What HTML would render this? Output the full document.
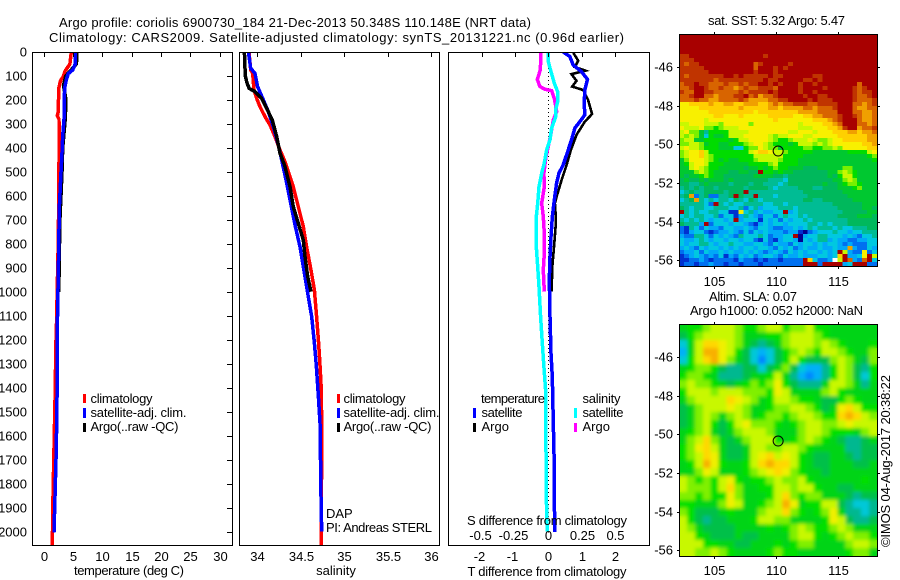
<!DOCTYPE html>
<html lang="en">
<head>
<meta charset="utf-8">
<title>Argo profile chart</title>
<style>
html,body{margin:0;padding:0;background:#fff;}
svg{display:block;font-family:"Liberation Sans",Arial,sans-serif;font-size:13px;fill:#000;}
</style>
</head>
<body>
<svg id="chart" xmlns="http://www.w3.org/2000/svg" width="900" height="580" viewBox="0 0 900 580">
  <defs>
    <clipPath id="clip-temp"><rect x="32" y="52" width="200" height="493"/></clipPath>
    <clipPath id="clip-sal"><rect x="239" y="52" width="200" height="493"/></clipPath>
    <clipPath id="clip-diff"><rect x="448" y="52" width="201" height="493"/></clipPath>
    <clipPath id="clip-sst"><rect x="679" y="34" width="198" height="232"/></clipPath>
    <clipPath id="clip-sla"><rect x="679" y="324" width="198" height="232"/></clipPath>
    <filter id="soften" x="-5%" y="-5%" width="110%" height="110%"><feGaussianBlur stdDeviation="1.9"/></filter>
  </defs>
  <rect width="900" height="580" fill="#fff"/>

  <text x="59" y="27" textLength="472" lengthAdjust="spacing">Argo profile: coriolis 6900730_184 21-Dec-2013 50.348S 110.148E (NRT data)</text>
  <text x="49" y="42" textLength="575" lengthAdjust="spacing">Climatology: CARS2009. Satellite-adjusted climatology: synTS_20131221.nc (0.96d earlier)</text>

  <g id="layer-sst" clip-path="url(#clip-sst)"></g>
  <g id="layer-sla" clip-path="url(#clip-sla)"></g>
  <g id="layer-lines"></g>
  <g id="layer-axes"></g>

  <text x="129" y="575" text-anchor="middle" textLength="110" lengthAdjust="spacing">temperature (deg C)</text>
  <text x="336" y="575" text-anchor="middle">salinity</text>
  <text x="547" y="576" text-anchor="middle" textLength="159" lengthAdjust="spacing">T difference from climatology</text>
  <text x="547" y="525" text-anchor="middle" textLength="160" lengthAdjust="spacing">S difference from climatology</text>

  <g>
    <rect x="83" y="394" width="3" height="9" fill="#f00"/>
    <rect x="83" y="408" width="3" height="10" fill="#00f"/>
    <rect x="83" y="423" width="3" height="9" fill="#000"/>
    <text x="90.5" y="403" textLength="62" lengthAdjust="spacing">climatology</text>
    <text x="90.5" y="417" textLength="96" lengthAdjust="spacing">satellite-adj. clim.</text>
    <text x="90.5" y="431" textLength="88" lengthAdjust="spacing">Argo(..raw -QC)</text>
  </g>
  <g>
    <rect x="337" y="394" width="3" height="9" fill="#f00"/>
    <rect x="337" y="408" width="3" height="10" fill="#00f"/>
    <rect x="337" y="423" width="3" height="9" fill="#000"/>
    <text x="343.5" y="403" textLength="62" lengthAdjust="spacing">climatology</text>
    <text x="343.5" y="417" textLength="96" lengthAdjust="spacing">satellite-adj. clim.</text>
    <text x="343.5" y="431" textLength="88" lengthAdjust="spacing">Argo(..raw -QC)</text>
  </g>
  <text x="326" y="518">DAP</text>
  <text x="326" y="532" textLength="106" lengthAdjust="spacing">PI: Andreas STERL</text>

  <g>
    <text x="481" y="403" textLength="64" lengthAdjust="spacing">temperature</text>
    <rect x="473" y="408" width="3" height="10" fill="#00f"/>
    <text x="481.5" y="417" textLength="41" lengthAdjust="spacing">satellite</text>
    <rect x="473" y="423" width="3" height="9" fill="#000"/>
    <text x="481.5" y="431">Argo</text>
    <text x="582.5" y="403" textLength="38" lengthAdjust="spacing">salinity</text>
    <rect x="574" y="408" width="3" height="10" fill="#0ff"/>
    <text x="582.5" y="417" textLength="41" lengthAdjust="spacing">satellite</text>
    <rect x="574" y="423" width="3" height="9" fill="#f0f"/>
    <text x="582.5" y="431">Argo</text>
  </g>

  <text x="708" y="25" textLength="137" lengthAdjust="spacing">sat. SST: 5.32 Argo: 5.47</text>
  <text x="709" y="301" textLength="88" lengthAdjust="spacing">Altim. SLA: 0.07</text>
  <text x="690" y="315" textLength="173" lengthAdjust="spacing">Argo h1000: 0.052 h2000: NaN</text>
  <text transform="translate(890,547) rotate(-90)" textLength="172" lengthAdjust="spacing">©IMOS 04-Aug-2017 20:38:22</text>
</svg>

<script>
/* ---------- temperature profiles (depth m, deg C) ---------- */
var climDepth = [0,50,80,100,120,150,250,265,280,400,600,800,1150,1200,1450,1650,1850,2055];
var climTemp  = [4.74,4.5,3.66,3.4,2.9,2.6,2.5,2.35,2.64,2.65,2.6,2.5,2.2,2.13,1.96,1.79,1.62,1.5];
var satDepth  = [0,50,75,90,110,150,280,350,420,500,650,800,1150,1350,1650,1850,2000];
var satTemp   = [5.42,5.4,4.97,4.23,3.95,3.6,3.5,3.27,3.15,2.98,2.7,2.6,2.35,2.35,2.18,1.96,1.79];
var argoDepth = [0,50,100,140,200,280,400,500,700,850,1000];
var argoTemp  = [5.7,5.6,3.78,3.4,3.83,3.7,3.27,3.15,2.8,2.7,2.6];

/* ---------- salinity profiles (depth m, psu) ---------- */
var climSalDepth = [0,75,89,158,193,228,269,304,352,408,457,519,561,644,727,811,908,991,1102,1199,1282,1380,1532,2055];
var climSal      = [33.904,33.924,33.947,33.962,33.993,34.031,34.089,34.146,34.204,34.261,34.319,34.377,34.415,34.472,34.53,34.568,34.618,34.657,34.683,34.703,34.718,34.733,34.741,34.737];
var satSalDepth  = [0,68,89,144,200,248,311,387,450,546,616,720,811,894,1004,1102,1212,1310,1435,1545,1851,1997];
var satSal       = [33.897,33.924,33.973,34.004,34.07,34.127,34.185,34.242,34.281,34.338,34.377,34.434,34.492,34.53,34.58,34.626,34.657,34.68,34.703,34.722,34.733,34.741];
var argoSalDepth = [0,68,100,124,151,165,193,235,283,352,421,477,561,644,713,783,852,935,998];
var argoSal      = [33.851,33.858,33.862,33.878,33.904,33.973,34.05,34.108,34.173,34.223,34.261,34.319,34.377,34.415,34.472,34.53,34.549,34.58,34.618];

/* ---------- differences from climatology ---------- */
var satDTDepth = [0,19,54,82,114,158,213,262,290,317,366,408,470,505,546,616,686,769,852,949,1102,1255,1352,1545,1727,1998];
var satDT      = [0.45,0.65,0.75,1.0,1.18,1.10,1.08,1.10,0.95,0.80,0.70,0.60,0.45,0.32,0.25,0.18,0.12,0.08,0.05,0.03,0.05,0.08,0.12,0.15,0.18,0.19];
var argoDTDepth = [3,36,63,78,92,120,144,158,200,258,290,345,408,470,533,602,630,672,727,797,894,998];
var argoDT      = [0.75,0.90,0.8,1.12,0.70,0.85,0.72,1.05,1.2,1.32,1.10,0.85,0.68,0.55,0.40,0.25,0.2,0.22,0.22,0.18,0.12,0.10];
var satDSDepth = [0,40,82,130,165,207,241,271,317,366,408,462,504,561,630,686,811,894,977,1102,1212,1310,1407,1851,1997];
var satDS      = [0,0,0.02,0.045,0.07,0.07,0.055,0.055,0.025,0.013,-0.013,-0.03,-0.05,-0.07,-0.08,-0.09,-0.09,-0.08,-0.07,-0.058,-0.045,-0.033,-0.02,-0.015,-0.008];
var argoDSDepth = [3,75,114,144,155,161,193,248,283,338,394,436,505,561,630,686,755,838,907,998];
var argoDS      = [-0.055,-0.06,-0.083,-0.063,-0.025,0.025,0.045,0.063,0.038,0.02,0,-0.018,-0.033,-0.03,-0.05,-0.038,-0.03,-0.03,-0.038,-0.03];

/* ---------- tick labels ---------- */
var depthTicks = [0,100,200,300,400,500,600,700,800,900,1000,1100,1200,1300,1400,1500,1600,1700,1800,1900,2000];
var tempTicks  = [0,5,10,15,20,25,30];
var salTicks   = [34,34.5,35,35.5,36];
var dTTicks    = [-2,-1,0,1,2];
var dSTicks    = [-0.5,-0.25,0,0.25,0.5];
var lonTicks   = [105,110,115];
var latTicks   = [-46,-48,-50,-52,-54,-56];

/* ---------- map values: A warmest/highest ... Q lowest, W no data ---------- */
var levelKeys   = "ABCDEFGHIJKLMNOPQW";
var sstColors = ["#a80000","#c03400","#d86400","#f0a000","#ffd000","#f8f000","#c8f800","#78f000","#00dc00","#00c830","#00b85c","#00bc94","#00c8e0","#00a8f8","#0070f0","#0030d0","#000090","#ffffff"];
var slaColors = ["#a80000","#c03400","#e07000","#f8b000","#ffd800","#f0f000","#c8f800","#80f000","#00e000","#00d418","#00c048","#00b890","#00c8d8","#00b0f8","#0088ff","#0030d0","#000090","#ffffff"];
var sstRows = [
"AAAAAAAAAA AAAAAAAAAA AAAAAAAAAA AAAAAAAAAA",
"AAAAAAAAAA AAAAAAAAAA AAAAAAAAAA AAAAAAAAAA",
"AAAAAAAAAA AAAAAAAAAA AAAAAAAAAA AAAAAAAAAA",
"AAAAAAAAAA AAAAAAAAAA AAAAAAAAAA AAAAAAAAAA",
"AAAAAAAAAA AAAAAAAAAA AAAAAAAAAA AAAAAAAAAA",
"BBAAAAAAAA AAAAAAABAA AAAAAAAAAA AAAAAAAAAA",
"BBBAAAAAAA AAAAAAAAAA AAAAAAAAAA AAAAAAAAAA",
"BCBBAAAAAA AAAAACBAAA AABAAAAAAA AAAAAAAAAA",
"BBBBBAAAAA AAAAACAAAB ABAAAAAAAA AAAAAAAAAA",
"BBBBBBAAAA AAAAABAAAB AAAAAAAAAA AAAAAAAAAA",
"BCBBBBBBBA ABABBBBBAB BAAAAAABBA AAAAAAAAAA",
"BBBBBBBCBB BBBBBBBABB AAAAABBABA AAAAAAAAAA",
"CBBABBCCCB CCBCBBAABA BAAABAABAA AAAAAACAAA",
"CCBAABCCBC CDCBCCBBBC AAAABAAAAB AAAAABCBAA",
"BCCAABBCCC CCBCBBBBAB AAAABAABAA AAAAABCBBA",
"CCBAACCDCC CBBACBDCCB AAAAABAABB AAAAABCCBA",
"CCCBCCDDCC CCBCDDDDCC BBAAAABABB BAAAABCCCB",
"FFEEEEDEED DEEDDDEEDC DCCBBBCCBB BBAAACCDCB",
"FFFFEEEEEE EEDEEEEEDD EDDDDCCDCC CBAAACDDCC",
"FFFFFFEEEE EEEEEFEEEE EEEEDDDDCC CCAAACCDDC",
"FFFFFFFEEF FFEFFFFFEE EEEFFEEDDC CCBAABCDDC",
"FFFFFGFFFF FFFFFFFFFE FFFFFFFEEE DCBAAACDDC",
"GGFFFGGGHF FFFFHFFFFF FFFFGFFFFE EDCAAACCDC",
"FGGGFHHIHG GGFFFFFFFF FFFFGGGFFF EEDBAADCCB",
"GFHHJLIIII GGGGFFFFFF FFGGFFFGFF FEEEDDEDDC",
"GHGHJMIJJI GGGFFFFFGH GGFFFGGFFF FFEEEEEEDD",
"HGGJJIIIII JIGGFFFFGH IIHGGGFGHH GFFEEEEEDD",
"HHGGHJIIJJ IIIHGFFGHI IIJIGGGHGH GFFFFFFEED",
"GFGGHIIIJJ JMMIHHFGHH JIIIIHHIIH HGHFFFFFEE",
"HGFFEGIIII IIIIGFEEFG GHIIIIIJJJ JJJJIIIIGF",
"HGFFEGHIII IIIIIGGGGG GIIIIJJJJJ JJJJJJJJIH",
"JHFFFGHIJI JJIIIHGGGG HIIIJJJJJJ JJJJJJJJJI",
"JIGFFGIIIJ JJJJIIIIHG IIIIJJJJJJ JJJJJJJJJJ",
"JJGFGHIIJJ JJJKJJIJIH IIJJJKKKJJ JJJHHJJJJJ",
"JJJHGHIJJJ KKJJKKAIIJ IJJKKKKKKK JJHGHIJJJJ",
"JKJJIHIJJK KKKKKJJJJK KLKKKKKKKK JKIGGIJJJJ",
"KJKKJKJJJK JKKKKKKKLL LMKKKKKKKK KJJHGHJJJJ",
"KKLLKJKKKK LKKKLKKLLL MLKKKKKKKJ KKJIHHIJJJ",
"LKLKLKKLKK KKKLKKKKLM LLLLKKKLLK KKJJJIHJJJ",
"MLKLLKKKKL KKKALLLLLL LLLLLKKKKK KKKJJJJJJJ",
"LKDOLKOOLL KAKLLALLLM LLLLLLKKKK KKKKJJJJJJ",
"MLKDLMLMLL MKLMKLMLLL LLLLLKKLLK KKKKKJJJJJ",
"LLLLLMOALM LMMLLLLMML LMLLLLLLLL LKKKKKKJJJ",
"KLMLLMMLLL MMLOMLNMMM LLLMLLLLLL LLKKKKKJJK",
"ALMLMMLLMM PPFMLNMNNM MANMLLLLLL LLLKKKKKJJ",
"MLMLLMMLOM MPNLMNOMMO MLMMLMLLLL LLKKKKJJJK",
"LMLMLMNMMN MANMMMPMNM OMNMMLMLLL LLLLKKKKKK",
"KLLLNAOMMM NMMNOPNMNM MNMMMMLLML MLLLKKKKKK",
"OPLMOMNNOM MNNMNOMMNO ONNMNMLMLL LMLMMLLLKK",
"OPNMMOPONN MNOMOMNMNN NONNPQONMM MLMMNMMLLL",
"NOOLLMOMNM NOLMMMLMON NMMAQNMMLL MMMNMNOMML",
"MNNMLMNMMN MMNMMOPMOP NMMNQMNMLL NMNNOONNMM",
"MNMMLLMNMM LMMNNMMNOM NNOMNMMNMN MMNONOOOMM",
"NMNOMNMMNM NMNMMNMMNO MNMONMNNMN NMNNDNOOMN",
"ONNMOMNNMN MNNMNMNONM NOMNMNMMNM NMAGNOOFOM",
"PONMNONOMP NOMNMONMMN OMNNMNNNMM NMEANNMFAG",
"PPOONOPOOO OPNOOPOPOO POOOOAEMOO NWGACNOCAM",
"POOPOONOOP OOPOOOPOOO OOOOOAAAOA AAANMAAAOO"
];
var slaRows = [
"JIIHGGGHIIHGGIHHGIIJJJJJJ",
"KIHGGGGHJJJIIHGGGHIJJJJJJ",
"MJGEEFGHJKLKJHGGGHGHIJJJI",
"NJGDDFGIKMNMKIHGHIGGHIJJH",
"MIGEDFHJKMOMKIGIKKKHGHJKH",
"JIHHIKLLKKMKJHKMNNLIGHKLI",
"IHHIJLLLKJJIGJLNONLIGHKMI",
"HGHHIJKJIHIHFIKLLLJGGHJLJ",
"IGGGHGGGHHHIFGJJJJHGIJJJJ",
"JHGGGGEFGHJIGGHIIJKKIHIJJ",
"KJHGGGFGHJJIHHGGHIKJFEGII",
"KJHGHJHGHJIHHIHGGHIIEDEGH",
"KJHGIKIGFHHHIJIHGGHHGFGGG",
"JIHGJKJHGGGHJJJHGGHIIIJHG",
"JHGEHJKJHGGGIJIHGHIJKLLKJ",
"IHFEGJKKJGGHHGGHIJJJJLLKK",
"IHGEFJKKJGFEGFGIJKKJJKLKK",
"JIGDFIJJIGEDEEGIJKKJJJKKJ",
"JJHFGJJJIHGFEFHIJJKJJJJJJ",
"GHIHIGFIJIIHGHHGIJJJJJJIJ",
"GHHHIGEHJJIIGGHGGIJJKKJJJ",
"HHIHIIFHJJJIGEHIHHJJJKLKK",
"IIJJJHFGJJIHGDFJIIGGKLMML",
"HIKKKJIJJJHGGEHIJIHFJLLML",
"GIKLKKJJJIGGHHJJJJIFGKLLK",
"GHJKKKKJJJJIJIHGHIIHGHJJJ",
"GGIJKKKJKKJJJJHGGIJIHGHHI",
"GGGIIJJKKJJJIJIHHJJJJHGGH",
"GGHHGHIJJJJIHIIJJJJJJIHHJ"
];

/* ---------- axis functions ---------- */
function depthY(d){ return 52 + d * 0.2402; }
function tempX(v){ return 43.5 + v * 5.87; }
function salX(v){ return 257.3 + (v - 34) * 86.85; }
function diffTX(v){ return 548.3 + v * 33.2; }
function diffSX(v){ return 548.3 + v * 4 * 33.2; }
function lonX(v){ return 776.3 + (v - 110) * 12.43; }
function latSstY(v){ return 144.3 + (-50 - v) * 19.36; }
function latSlaY(v){ return 434.3 + (-50 - v) * 19.36; }

var SVGNS = "http://www.w3.org/2000/svg";
function make(tag, attrs, parent){
  var el = document.createElementNS(SVGNS, tag);
  for (var k in attrs) { el.setAttribute(k, attrs[k]); }
  parent.appendChild(el);
  return el;
}
function drawLine(parent, x1, y1, x2, y2, name){
  var el = make("line", {x1:x1, y1:y1, x2:x2, y2:y2, stroke:"#000", "stroke-width":1, "shape-rendering":"crispEdges"}, parent);
  
  
  return el;
}
function drawLabel(parent, x, y, text, anchor, name){
  var el = make("text", {x:x, y:y, "text-anchor":anchor}, parent);
  el.textContent = text;
  
  
  return el;
}
function drawProfile(parent, depths, values, xFn, color, width, clipId, name){
  var pts = [];
  for (var i = 0; i < depths.length; i++) {
    pts.push(xFn(values[i]).toFixed(1) + "," + depthY(depths[i]).toFixed(1));
  }
  var el = make("polyline", {points:pts.join(" "), fill:"none", stroke:color, "stroke-width":width, "shape-rendering":"crispEdges", "clip-path":"url(#" + clipId + ")"}, parent);
  
  
  return el;
}
function drawBox(parent, l, t, r, b, name){
  var el = make("rect", {x:l + 0.5, y:t + 0.5, width:r - l, height:b - t, fill:"none", stroke:"#000", "stroke-width":1, "shape-rendering":"crispEdges"}, parent);
  
  
  return el;
}

/* ---------- profile lines ---------- */
var lines = document.getElementById("layer-lines");
drawProfile(lines, climDepth, climTemp, tempX, "#f00", 3.5, "clip-temp", "temperature-climatology-line");
drawProfile(lines, argoDepth, argoTemp, tempX, "#000", 3.5, "clip-temp", "temperature-argo-line");
drawProfile(lines, satDepth, satTemp, tempX, "#00f", 3.5, "clip-temp", "temperature-satellite-line");
drawProfile(lines, climSalDepth, climSal, salX, "#f00", 3.5, "clip-sal", "salinity-climatology-line");
drawProfile(lines, satSalDepth, satSal, salX, "#00f", 3.5, "clip-sal", "salinity-satellite-line");
drawProfile(lines, argoSalDepth, argoSal, salX, "#000", 3.5, "clip-sal", "salinity-argo-line");

var zeroLine = make("line", {x1:diffTX(0), y1:depthY(0), x2:diffTX(0), y2:depthY(2000), stroke:"#000", "stroke-width":1, "stroke-dasharray":"1 3", "shape-rendering":"crispEdges"}, lines);


drawProfile(lines, argoDTDepth, argoDT, diffTX, "#000", 2.6, "clip-diff", "t-difference-argo-line");
drawProfile(lines, satDTDepth, satDT, diffTX, "#00f", 3.5, "clip-diff", "t-difference-satellite-line");
drawProfile(lines, argoDSDepth, argoDS, diffSX, "#f0f", 3.5, "clip-diff", "s-difference-argo-line");
drawProfile(lines, satDSDepth, satDS, diffSX, "#0ff", 3.5, "clip-diff", "s-difference-satellite-line");

/* ---------- axes ---------- */
var axes = document.getElementById("layer-axes");
drawBox(axes, 32, 52, 232, 545, "temperature-axes-box");
drawBox(axes, 239, 52, 439, 545, "salinity-axes-box");
drawBox(axes, 448, 52, 649, 545, "difference-axes-box");

depthTicks.forEach(function(d){
  var y = Math.round(depthY(d)) + 0.5;
  drawLine(axes, 227, y, 232, y, "depth-tick-right");
  drawLabel(axes, 27, y + 4, String(d), "end", "depth-tick-label");
});
tempTicks.forEach(function(v){
  var x = Math.round(tempX(v)) + 0.5;
  drawLine(axes, x, 52, x, 57, "temperature-tick-top");
  drawLabel(axes, x, 561, String(v), "middle", "temperature-tick-label");
});
salTicks.forEach(function(v){
  var x = Math.round(salX(v)) + 0.5;
  drawLine(axes, x, 52, x, 57, "salinity-tick-top");
  drawLabel(axes, x, 561, String(v), "middle", "salinity-tick-label");
});
dTTicks.forEach(function(v){
  var x = Math.round(diffTX(v)) + 0.5;
  drawLine(axes, x, 52, x, 57, "t-difference-tick-top");
  drawLabel(axes, x - (v < 0 ? 3 : 0), 561, String(v), "middle", "t-difference-tick-label");
});
dSTicks.forEach(function(v){
  var x = Math.round(diffSX(v)) + 0.5;
  drawLabel(axes, x - (v < 0 ? 2 : 0), 540, String(v), "middle", "s-difference-tick-label");
});

/* ---------- maps ---------- */
function drawCells(parent, rows, colors, left, top, width, height, name){
  var cleanRows = rows.map(function(r){ return r.replace(/ /g, ""); });
  var rowH = height / cleanRows.length;
  cleanRows.forEach(function(row, j){
    var colW = width / row.length;
    for (var i = 0; i < row.length; i++) {
      var level = levelKeys.indexOf(row.charAt(i));
      var cell = make("rect", {x:(left + i * colW).toFixed(2), y:(top + j * rowH).toFixed(2), width:(colW + 0.6).toFixed(2), height:(rowH + 0.6).toFixed(2), fill:colors[level], "shape-rendering":"crispEdges"}, parent);
      
      
    }
  });
}
var sstLayer = document.getElementById("layer-sst");
drawCells(sstLayer, sstRows, sstColors, 679, 34, 198, 232, "sst-cell");
var slaLayer = document.getElementById("layer-sla");
drawCells(slaLayer, slaRows, slaColors, 679, 324, 198, 232, "sla-cell");
var slaSoft = make("g", {filter:"url(#soften)"}, slaLayer);


drawCells(slaSoft, slaRows, slaColors, 679, 324, 198, 232, "sla-smoothed-cell");

function drawMapFrame(top, bottom, latFn, name, labelY){
  drawBox(axes, 679, top, 877, bottom, name + "-box");
  lonTicks.forEach(function(v){
    var x = Math.round(lonX(v)) + 0.5;
    drawLine(axes, x, top - 2, x, top, name + "-lon-tick-top");
    drawLine(axes, x, bottom + 1, x, bottom + 3, name + "-lon-tick-bottom");
    drawLabel(axes, x, labelY, String(v), "middle", name + "-lon-label");
  });
  latTicks.forEach(function(v){
    var y = Math.round(latFn(v)) + 0.5;
    drawLine(axes, 677, y, 679, y, name + "-lat-tick-left");
    drawLine(axes, 878, y, 880, y, name + "-lat-tick-right");
    drawLabel(axes, 673, y + 4, String(v), "end", name + "-lat-label");
  });
}
drawMapFrame(34, 266, latSstY, "sst-map", 286);
drawMapFrame(324, 556, latSlaY, "sla-map", 575);

var floatLon = 110.148;
var floatLat = -50.348;
var floatOnSst = make("circle", {cx:lonX(floatLon), cy:latSstY(floatLat), r:5, fill:"none", stroke:"#000", "stroke-width":1}, axes);


var floatOnSla = make("circle", {cx:lonX(floatLon), cy:latSlaY(floatLat), r:5, fill:"none", stroke:"#000", "stroke-width":1}, axes);


</script>
</body>
</html>
